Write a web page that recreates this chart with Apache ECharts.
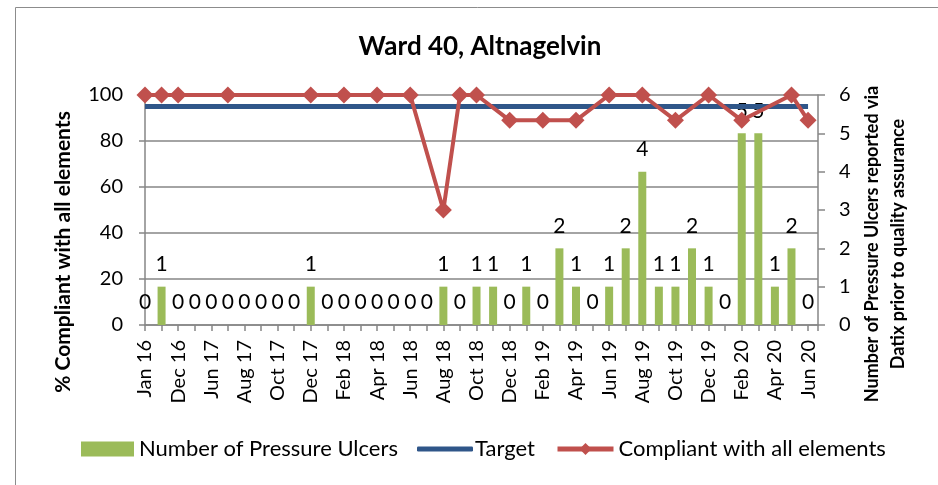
<!DOCTYPE html>
<html>
<head>
<meta charset="utf-8">
<script src="https://cdn.jsdelivr.net/npm/echarts@6/dist/echarts.min.js"></script>
<style>
html,body{margin:0;padding:0;background:#fff;}
#chart{width:938px;height:485px;}
</style>
</head>
<body>
<div id="chart"></div>
<script>
const categories = ['Jan 16','Jun 16','Dec 16','Mar 17','Jun 17','Jul 17','Aug 17','Sep 17','Oct 17','Nov 17',
  'Dec 17','Jan 18','Feb 18','Mar 18','Apr 18','May 18','Jun 18','Jul 18','Aug 18','Sep 18',
  'Oct 18','Nov 18','Dec 18','Jan 19','Feb 19','Mar 19','Apr 19','May 19','Jun 19','Jul 19',
  'Aug 19','Sep 19','Oct 19','Nov 19','Dec 19','Jan 20','Feb 20','Mar 20','Apr 20','May 20','Jun 20'];
const ulcers = [0,1,0,0,0,0,0,0,0,0, 1,0,0,0,0,0,0,0,1,0, 1,1,0,1,0,2,1,0,1,2, 4,1,1,2,1,0,5,5,1,2,0];
const compliance = [100,100,100,null,null,100,null,null,null,null,
  100,null,100,null,100,null,100,null,50,100,
  100,null,89,null,89,null,89,null,100,null,
  100,null,89,null,100,null,89,null,null,100,89];
const target = [95,95,95,95,95,95,95,95,95,95, 95,95,95,95,95,95,95,95,95,95,
  95,95,95,95,95,95,95,95,95,95, 95,95,95,95,95,95,95,95,95,95,95];
const leftTicks = [0,20,40,60,80,100];
const rightTicks = [0,1,2,3,4,5,6];

const FONT = 'Lato';
const chart = echarts.init(document.getElementById('chart'), null, {renderer:'canvas'});
const pairs = arr => arr.map((v,i) => [i, v]);
const gray = '#868686';

chart.setOption({
  animation:false,
  textStyle:{fontFamily:FONT, color:'#000'},
  grid:{left:145, right:120, top:95, bottom:160},
  graphic:[
    {type:'rect', shape:{x:15.5, y:7.5, width:960, height:520}, style:{fill:'none', stroke:'#8c8c8c', lineWidth:1}, silent:true, z:-10},
    {type:'text', x:480, y:47, style:{text:'Ward 40, Altnagelvin', font:'bold 26px '+FONT, fill:'#000', align:'center', verticalAlign:'middle'}},
    {type:'text', x:63, y:252, rotation:Math.PI/2, style:{text:'% Compliant with all elements', font:'bold 21px '+FONT, fill:'#000', align:'center', verticalAlign:'middle'}},
    {type:'text', x:885, y:244, rotation:Math.PI/2, style:{text:'Number of Pressure Ulcers reported via\nDatix prior to quality assurance', font:'bold 18px '+FONT, lineHeight:26, fill:'#000', align:'center', verticalAlign:'middle'}}
  ],
  legend:[
    {data:[{name:'Number of Pressure Ulcers', icon:'rect'}], left:81, top:438, padding:0, itemWidth:53, itemHeight:15,
      textStyle:{fontSize:22, fontFamily:FONT, color:'#000'}},
    {data:[{name:'Target', icon:'roundRect'}], left:417, top:438, padding:0, itemWidth:56, itemHeight:5,
      itemStyle:{color:'#2F5689', borderWidth:0},
      textStyle:{fontSize:22, fontFamily:FONT, color:'#000', padding:[0,0,0,-3]}},
    {data:['Compliant with all elements'], left:555, top:438, padding:0, itemWidth:56, itemHeight:15,
      lineStyle:{width:5, color:'#C0504D'},
      textStyle:{fontSize:22, fontFamily:FONT, color:'#000'}}
  ],
  xAxis:{
    type:'value', min:0, max:40.6, interval:1,
    axisLine:{show:true, lineStyle:{color:gray, width:1.5}},
    axisTick:{show:true, length:6, lineStyle:{color:gray, width:1.5}},
    splitLine:{show:false},
    axisLabel:{rotate:90, margin:15, fontSize:20, color:'#000', fontFamily:FONT, showMinLabel:true, showMaxLabel:true,
      formatter: v => (Number.isInteger(v) && v % 2 === 0 && categories[v]) ? categories[v] : ''}
  },
  yAxis:[
    {type:'value', min:0, max:100, interval:20, position:'left',
      axisLine:{show:true, lineStyle:{color:gray, width:1.5}},
      axisTick:{show:true, length:6, lineStyle:{color:gray, width:1.5}},
      splitLine:{show:true, lineStyle:{color:gray, width:1.5}},
      axisLabel:{margin:22, fontSize:20, color:'#000', fontFamily:FONT,
        formatter: v => leftTicks.includes(v) ? String(v) : ''}},
    {type:'value', min:0, max:6, interval:1, position:'right',
      axisLine:{show:true, lineStyle:{color:gray, width:1.5}},
      axisTick:{show:true, length:7, lineStyle:{color:gray, width:1.5}},
      splitLine:{show:false},
      axisLabel:{margin:21, fontSize:20, color:'#000', fontFamily:FONT,
        formatter: v => rightTicks.includes(v) ? String(v) : ''}}
  ],
  series:[
    {name:'Number of Pressure Ulcers', type:'bar', yAxisIndex:1, barWidth:8,
      itemStyle:{color:'#9BBB59'}, data:pairs(ulcers),
      label:{show:true, position:'top', distance:12, fontSize:21, color:'#000', fontFamily:FONT,
        formatter: p => String(p.value[1])}},
    {name:'Target', type:'line', yAxisIndex:0, symbol:'none', data:pairs(target),
      lineStyle:{color:'#2F5689', width:5}, itemStyle:{color:'#2F5689'}},
    {name:'Compliant with all elements', type:'line', yAxisIndex:0, connectNulls:true,
      symbol:'diamond', symbolSize:17, data:pairs(compliance),
      lineStyle:{color:'#C0504D', width:4}, itemStyle:{color:'#C0504D'}}
  ]
});
</script>
</body>
</html>
